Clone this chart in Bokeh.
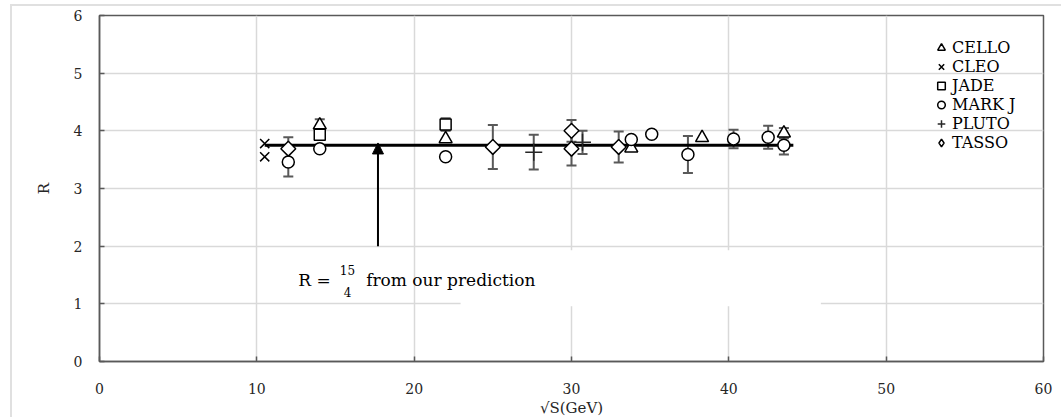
import math
from bokeh.plotting import figure
from bokeh.models import (Range1d, FixedTicker, Whisker, TeeHead, ColumnDataSource,
                          Legend, LegendItem, Label, Arrow, NormalHead, BoxAnnotation)
from bokeh.embed import file_html
from bokeh.resources import INLINE

# ---------------- data ----------------
cello_x = [14, 22, 33.8, 38.3, 43.5]
cello_y = [4.10, 3.86, 3.70, 3.88, 3.96]
cello_err = [0.10, 0, 0, 0, 0.09]

cleo_x = [10.5, 10.5]
cleo_y = [3.78, 3.55]
cleo_err = [0, 0]

jade_x = [14, 22]
jade_y = [3.93, 4.11]
jade_err = [0, 0.11]

markj_x = [12, 14, 22, 33.8, 35.1, 37.4, 40.3, 42.5, 43.5]
markj_y = [3.46, 3.69, 3.55, 3.85, 3.94, 3.59, 3.86, 3.89, 3.75]
markj_err = [0.25, 0, 0, 0, 0, 0.32, 0.16, 0.20, 0.16]

pluto_x = [27.6, 30.7]
pluto_y = [3.63, 3.80]
pluto_err = [0.30, 0.20]

tasso_x = [12, 25, 30, 30, 33]
tasso_y = [3.69, 3.72, 4.00, 3.69, 3.72]
tasso_err = [0.20, 0.38, 0.19, 0.29, 0.27]

R_pred = 15 / 4
pred_x = [10.5, 44.1]
arrow_x = 17.7
arrow_y_start = 2.0

x_ticks = [0, 10, 20, 30, 40, 50, 60]
y_ticks = [0, 1, 2, 3, 4, 5, 6]

FONT = "DejaVu Serif"
AX = "#595959"
GRID = "#d9d9d9"

p = figure(frame_width=944, frame_height=346, min_border_left=87, min_border_right=18,
           min_border_top=9, min_border_bottom=54,
           output_backend="svg", toolbar_location=None,
           x_range=Range1d(0, 60), y_range=Range1d(0, 6))
p.styles = {"margin-left": "10px", "margin-top": "4px",
            "border-top": "2px solid #e0e0e0", "border-left": "2px solid #e0e0e0"}

p.outline_line_color = AX
p.outline_line_width = 1.5
p.background_fill_color = "white"
p.border_fill_color = "white"

for ax, ticks in ((p.xaxis[0], x_ticks), (p.yaxis[0], y_ticks)):
    ax.ticker = FixedTicker(ticks=ticks)
    ax.axis_line_color = AX
    ax.axis_line_width = 1.5
    ax.major_tick_line_color = AX
    ax.major_tick_line_width = 1.5
    ax.major_tick_in = 5
    ax.major_tick_out = 0
    ax.minor_tick_line_color = None
    ax.major_label_text_font = FONT
    ax.major_label_text_font_size = "14px"
    ax.major_label_text_color = "#262626"
    ax.axis_label_text_font = FONT
    ax.axis_label_text_font_size = "15px"
    ax.axis_label_text_font_style = "normal"
    ax.axis_label_text_color = "#262626"

p.xaxis.axis_label = "√S(GeV)"
p.xaxis.major_label_standoff = 21
p.xaxis.axis_label_standoff = 2
p.yaxis.axis_label = "R"
p.yaxis.major_label_standoff = 17
p.yaxis.axis_label_standoff = 18

p.xgrid.ticker = FixedTicker(ticks=x_ticks)
p.ygrid.ticker = FixedTicker(ticks=y_ticks)
p.grid.grid_line_color = GRID
p.grid.grid_line_width = 1.5

# white text box behind the annotation (covers gridlines)
p.add_layout(BoxAnnotation(left=22.95, right=45.85, bottom=0.96, top=1.93,
                           fill_color="white", fill_alpha=1.0, line_alpha=0,
                           level="underlay"))

# error bars
for xs, ys, es in ((cello_x, cello_y, cello_err), (jade_x, jade_y, jade_err),
                   (markj_x, markj_y, markj_err), (pluto_x, pluto_y, pluto_err),
                   (tasso_x, tasso_y, tasso_err)):
    sel = [i for i, e in enumerate(es) if e > 0]
    if not sel:
        continue
    src = ColumnDataSource(dict(
        x=[xs[i] for i in sel],
        lo=[ys[i] - es[i] for i in sel],
        hi=[ys[i] + es[i] for i in sel]))
    w = Whisker(base="x", lower="lo", upper="hi", source=src, dimension="height",
                line_color=AX, line_width=2,
                upper_head=TeeHead(size=10, line_color=AX, line_width=2),
                lower_head=TeeHead(size=10, line_color=AX, line_width=2))
    p.add_layout(w)

# prediction line
p.line(pred_x, [R_pred, R_pred], line_color="black", line_width=3)

# arrow
p.add_layout(Arrow(x_start=arrow_x, y_start=arrow_y_start, x_end=arrow_x, y_end=R_pred + 0.04,
                   line_color="black", line_width=2,
                   end=NormalHead(size=11, fill_color="black", line_color="black")))

# markers
r_cello = p.scatter(cello_x, cello_y, marker="triangle", size=13, fill_color="white",
                    line_color="black", line_width=1.5)
r_cleo = p.scatter(cleo_x, cleo_y, marker="x", size=13, line_color="black", line_width=1.5)
r_jade = p.scatter(jade_x, jade_y, marker="square", size=11, fill_color="white",
                   line_color="black", line_width=1.5)
r_markj = p.scatter(markj_x, markj_y, marker="circle", size=12, fill_color="white",
                    line_color="black", line_width=1.5)
r_pluto = p.scatter(pluto_x, pluto_y, marker="cross", size=17, line_color="#262626",
                    line_width=1.5)
# legend glyph for TASSO (legend markers are drawn unrotated); hidden under the
# white-filled rotated squares drawn on top of it
lg_tasso = p.scatter(tasso_x, tasso_y, marker="diamond", size=9, fill_color="white",
                     line_color="black", line_width=1.5)
r_tasso = p.scatter(tasso_x, tasso_y, marker="square", angle=math.pi / 4, size=10.5,
                    fill_color="white", line_color="black", line_width=1.5)

legend = Legend(items=[
    LegendItem(label="CELLO", renderers=[r_cello]),
    LegendItem(label="CLEO", renderers=[r_cleo]),
    LegendItem(label="JADE", renderers=[r_jade]),
    LegendItem(label="MARK J", renderers=[r_markj]),
    LegendItem(label="PLUTO", renderers=[r_pluto]),
    LegendItem(label="TASSO", renderers=[lg_tasso]),
], location=(831, 209))
legend.glyph_width = 22
legend.glyph_height = 19
legend.label_height = 19
legend.label_standoff = 0
legend.spacing = 0
legend.padding = 0
legend.margin = 0
legend.border_line_color = None
legend.background_fill_alpha = 0
legend.label_text_font = FONT
legend.label_text_font_size = "16px"
legend.label_text_color = "black"
p.add_layout(legend)

# annotation text
for txt, x, y, size, align in (("R =", 12.64, 1.42, "17px", "left"),
                               ("15", 15.76, 1.58, "12px", "center"),
                               ("4", 15.76, 1.21, "12px", "center"),
                               ("from our prediction", 16.95, 1.42, "17px", "left")):
    p.add_layout(Label(x=x, y=y, text=txt, text_font=FONT, text_font_size=size,
                       text_align=align, text_baseline="middle", text_color="black"))

open("out.html", "w").write(file_html(p, INLINE))
